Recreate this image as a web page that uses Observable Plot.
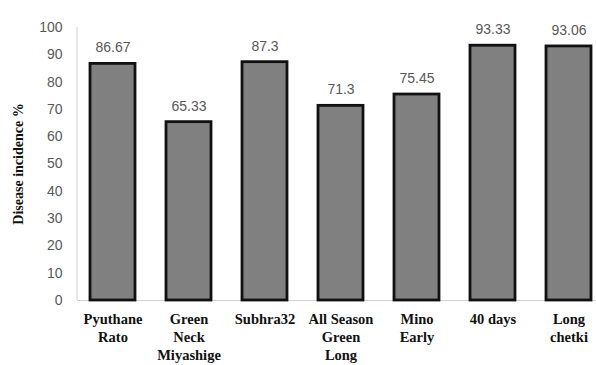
<!DOCTYPE html>
<html>
<head>
<meta charset="utf-8">
<script src="https://cdn.jsdelivr.net/npm/d3@7"></script>
<script src="https://cdn.jsdelivr.net/npm/@observablehq/plot@0.6"></script>
<style>
  html, body { margin: 0; padding: 0; background: #fff; }
  #chart svg { display: block; }
</style>
</head>
<body>
<div id="chart"></div>
<script>
// Chilli varieties and their disease incidence (%)
const varieties = [
  "Pyuthane\nRato",
  "Green\nNeck\nMiyashige",
  "Subhra32",
  "All Season\nGreen\nLong",
  "Mino\nEarly",
  "40 days",
  "Long\nchetki"
];
const incidence = [86.67, 65.33, 87.3, 71.3, 75.45, 93.33, 93.06];
const valueLabels = ["86.67", "65.33", "87.3", "71.3", "75.45", "93.33", "93.06"];
const yTicks = [0, 10, 20, 30, 40, 50, 60, 70, 80, 90, 100];

const data = varieties.map((v, i) => ({variety: v, value: incidence[i], label: valueLabels[i]}));

const sans = "'Liberation Sans', Arial, sans-serif";
const serif = "'Liberation Serif', 'Times New Roman', serif";

const chart = Plot.plot({
  width: 596,
  height: 365,
  marginTop: 27,
  marginBottom: 65,
  marginLeft: 77,
  marginRight: 0,
  style: {background: "#fff", overflow: "visible"},
  x: {domain: varieties, range: [77, 604], paddingInner: 0.41, paddingOuter: 0.17},
  y: {domain: [0, 100], ticks: yTicks},
  marks: [
    Plot.ruleY([0], {stroke: "#d0d0d0", strokeWidth: 1}),
    Plot.barY(data, {x: "variety", y: "value", fill: "#808080", stroke: "#111", strokeWidth: 2.8}),
    Plot.text(data, {x: "variety", y: "value", text: "label", dy: -16, fontSize: 14, fill: "#595959", fontFamily: sans}),
    Plot.axisY({ticks: yTicks, tickSize: 0, tickPadding: 15, fontSize: 14, fill: "#595959", fontFamily: sans, label: null}),
    Plot.axisX({
      tickSize: 0, tickPadding: 11, fontSize: 14.5, fontWeight: "bold", fontFamily: serif,
      fill: "#111", lineHeight: 1.24, label: null, letterSpacing: 0.6
    }),
    Plot.text(["Disease incidence %"], {
      frameAnchor: "left", textAnchor: "middle", dx: -59, rotate: -90,
      fontSize: 14, fontWeight: "bold", fontFamily: serif, fill: "#111", letterSpacing: 1.1
    })
  ]
});

// vertical axis line along the left edge of the frame
d3.select(chart).append("line")
  .attr("x1", 77).attr("x2", 77)
  .attr("y1", 27).attr("y2", 300)
  .attr("stroke", "#d0d0d0");

document.getElementById("chart").append(chart);
</script>
</body>
</html>
